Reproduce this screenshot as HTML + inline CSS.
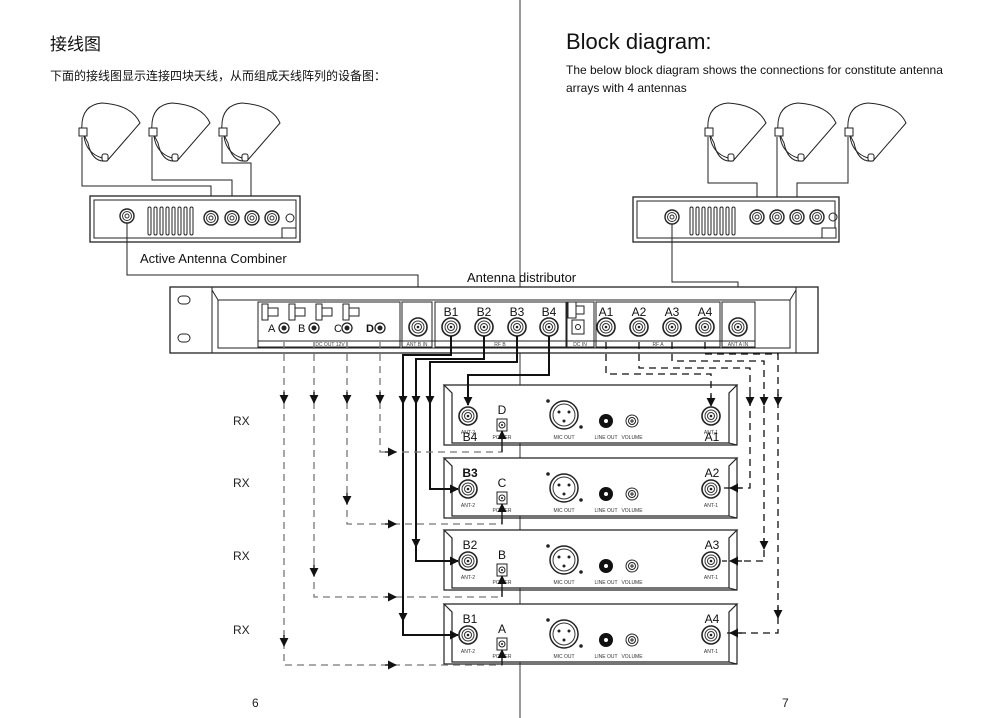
<!DOCTYPE html>
<html><head><meta charset="utf-8"><style>
html,body{margin:0;padding:0;background:#fff;}
svg{display:block;font-family:"Liberation Sans","Noto Sans CJK SC",sans-serif;}
</style></head><body>
<svg width="1000" height="718" viewBox="0 0 1000 718" xmlns="http://www.w3.org/2000/svg">
<defs>
<marker id="ar" viewBox="0 0 10 10" refX="9" refY="5" markerWidth="9" markerHeight="9" markerUnits="userSpaceOnUse" orient="auto"><path d="M0,0L10,5L0,10Z" fill="#111"/></marker>
<g id="ant" fill="none" stroke="#222" stroke-width="1">
<path d="M0,-2 Q-2,-28 20,-30 Q50,-28 58,-10 L25,28 Q10,30 6,10 Z" fill="#fff"/>
<rect x="-3" y="-5" width="8" height="8" fill="#fff"/>
<path d="M2,3 Q4,20 20,25"/><rect x="20" y="21" width="6" height="7" rx="2" fill="#fff"/>
</g>
<g id="con"><circle r="9" fill="#fff" stroke="#222" stroke-width="1.6"/><circle r="6" fill="none" stroke="#333"/><circle r="3.5" fill="none" stroke="#333"/><circle r="1.3" fill="#222"/></g>
<g id="scon"><circle r="7" fill="#fff" stroke="#222" stroke-width="1.4"/><circle r="4.5" fill="none" stroke="#333"/><circle r="2" fill="none" stroke="#333"/></g>
<g id="rcv">
<path d="M0,0 H293 L285,8 V58 H8 V8 Z" fill="#fff" stroke="#222" stroke-width="1.2"/>
<path d="M0,0 V60 H293 V0" fill="none" stroke="#222" stroke-width="1.2"/>
<line x1="285" y1="58" x2="293" y2="60" stroke="#222"/>
<use href="#con" x="24" y="31"/>
<text x="24" y="49" font-size="5" text-anchor="middle" fill="#333">ANT-2</text>
<rect x="53" y="34" width="10" height="12" fill="#fff" stroke="#222"/><circle cx="58" cy="40" r="3" fill="none" stroke="#222"/><circle cx="58" cy="40" r="1" fill="#222"/>
<text x="58" y="54" font-size="5" text-anchor="middle" fill="#333">POWER</text>
<circle cx="120" cy="30" r="14" fill="#fff" stroke="#222" stroke-width="1.5"/><circle cx="120" cy="30" r="11" fill="none" stroke="#333"/>
<circle cx="115" cy="27" r="1.5" fill="#222"/><circle cx="125" cy="27" r="1.5" fill="#222"/><circle cx="120" cy="36" r="1.5" fill="#222"/>
<circle cx="104" cy="16" r="1.8" fill="#222"/><circle cx="137" cy="42" r="1.8" fill="#222"/>
<text x="120" y="54" font-size="5" text-anchor="middle" fill="#333">MIC OUT</text>
<circle cx="162" cy="36" r="7" fill="#111"/><circle cx="162" cy="36" r="2" fill="#fff"/>
<text x="162" y="54" font-size="5" text-anchor="middle" fill="#333">LINE OUT</text>
<circle cx="188" cy="36" r="6" fill="#fff" stroke="#222"/><circle cx="188" cy="36" r="3.5" fill="none" stroke="#222"/><path d="M186,36h4M188,34v4" stroke="#222"/>
<text x="188" y="54" font-size="5" text-anchor="middle" fill="#333">VOLUME</text>
<use href="#con" x="267" y="31"/>
<text x="267" y="49" font-size="5" text-anchor="middle" fill="#333">ANT-1</text>
</g>
</defs>

<line x1="520" y1="0" x2="520" y2="718" stroke="#333" stroke-width="1"/>

<text x="50" y="50" font-size="17" fill="#111">接线图</text>
<text x="50" y="80" font-size="12" fill="#111">下面的接线图显示连接四块天线，从而组成天线阵列的设备图：</text>
<text x="566" y="49" font-size="22" fill="#111">Block diagram:</text>
<text x="566" y="74" font-size="12" fill="#111">The below block diagram shows the connections for constitute antenna</text>
<text x="566" y="92" font-size="12" fill="#111">arrays with 4 antennas</text>

<use href="#ant" x="82" y="133"/><use href="#ant" x="152" y="133"/><use href="#ant" x="222" y="133"/>
<path d="M82,137V186H211V210M152,137V180H232V210M222,137V163H251V210" fill="none" stroke="#222"/>
<rect x="90" y="196" width="210" height="46" fill="#fff" stroke="#222" stroke-width="1.3"/>
<rect x="94" y="200" width="202" height="38" fill="none" stroke="#222"/>
<g fill="none" stroke="#222"><rect x="148" y="207" width="3" height="28" rx="1.5"/><rect x="154" y="207" width="3" height="28" rx="1.5"/><rect x="160" y="207" width="3" height="28" rx="1.5"/><rect x="166" y="207" width="3" height="28" rx="1.5"/><rect x="172" y="207" width="3" height="28" rx="1.5"/><rect x="178" y="207" width="3" height="28" rx="1.5"/><rect x="184" y="207" width="3" height="28" rx="1.5"/><rect x="190" y="207" width="3" height="28" rx="1.5"/></g>
<use href="#scon" x="127" y="216"/><use href="#scon" x="211" y="218"/><use href="#scon" x="232" y="218"/><use href="#scon" x="252" y="218"/><use href="#scon" x="272" y="218"/>
<circle cx="290" cy="218" r="4" fill="none" stroke="#222"/><rect x="282" y="228" width="14" height="10" fill="#fff" stroke="#222"/>
<path d="M127,223V275H418V318" fill="none" stroke="#222"/>
<text x="140" y="263" font-size="13" fill="#111">Active  Antenna Combiner</text>

<use href="#ant" x="708" y="133"/><use href="#ant" x="778" y="133"/><use href="#ant" x="848" y="133"/>
<path d="M708,137V183H757V210M777,137V210M848,137V183H797V210" fill="none" stroke="#222"/>
<rect x="633" y="197" width="206" height="45" fill="#fff" stroke="#222" stroke-width="1.3"/>
<rect x="637" y="201" width="198" height="37" fill="none" stroke="#222"/>
<g fill="none" stroke="#222"><rect x="690" y="207" width="3" height="28" rx="1.5"/><rect x="696" y="207" width="3" height="28" rx="1.5"/><rect x="702" y="207" width="3" height="28" rx="1.5"/><rect x="708" y="207" width="3" height="28" rx="1.5"/><rect x="714" y="207" width="3" height="28" rx="1.5"/><rect x="720" y="207" width="3" height="28" rx="1.5"/><rect x="726" y="207" width="3" height="28" rx="1.5"/><rect x="732" y="207" width="3" height="28" rx="1.5"/></g>
<use href="#scon" x="672" y="217"/><use href="#scon" x="757" y="217"/><use href="#scon" x="777" y="217"/><use href="#scon" x="797" y="217"/><use href="#scon" x="817" y="217"/>
<circle cx="833" cy="217" r="4" fill="none" stroke="#222"/><rect x="822" y="228" width="14" height="10" fill="#fff" stroke="#222"/>
<path d="M672,224V282H738V318" fill="none" stroke="#222"/>

<text x="467" y="282" font-size="13" fill="#111">Antenna distributor</text>

<rect x="170" y="287" width="648" height="66" fill="#fff" stroke="#222" stroke-width="1.3"/>
<line x1="212" y1="287" x2="212" y2="353" stroke="#222"/><line x1="796" y1="287" x2="796" y2="353" stroke="#222"/>
<rect x="178" y="296" width="12" height="8" rx="4" fill="none" stroke="#222"/><rect x="178" y="334" width="12" height="8" rx="4" fill="none" stroke="#222"/>
<path d="M212,290 L218,300 H790 L796,290" fill="none" stroke="#222"/>
<rect x="218" y="300" width="572" height="48" fill="none" stroke="#222"/>
<g fill="none" stroke="#222">
<rect x="258" y="302" width="142" height="45"/><rect x="402" y="302" width="30" height="45"/><rect x="435" y="302" width="131" height="45"/>
<rect x="567" y="302" width="27" height="45"/><rect x="596" y="302" width="124" height="45"/><rect x="722" y="302" width="33" height="45"/>
<line x1="258" y1="341" x2="755" y2="341"/>
<rect x="262" y="304" width="6" height="16"/><rect x="268" y="308" width="10" height="8"/>
<rect x="289" y="304" width="6" height="16"/><rect x="295" y="308" width="10" height="8"/>
<rect x="316" y="304" width="6" height="16"/><rect x="322" y="308" width="10" height="8"/>
<rect x="343" y="304" width="6" height="16"/><rect x="349" y="308" width="10" height="8"/>
<rect x="568" y="302" width="8" height="16"/><rect x="576" y="306" width="8" height="8"/>
<rect x="572" y="320" width="12" height="14"/><circle cx="578" cy="327" r="2.5"/>
</g>
<g font-size="5" fill="#444" text-anchor="middle"><text x="330" y="346">DC OUT 12V</text><text x="417" y="346">ANT B IN</text><text x="500" y="346">RF B</text><text x="580" y="346">DC IN</text><text x="658" y="346">RF A</text><text x="738" y="346">ANT A IN</text></g>
<g font-size="11" fill="#111"><text x="268" y="332">A</text><text x="298" y="332">B</text><text x="334" y="332">C</text><text x="366" y="332" font-weight="bold">D</text></g>
<g fill="#fff" stroke="#222" stroke-width="1.3"><circle cx="284" cy="328" r="5"/><circle cx="314" cy="328" r="5"/><circle cx="347" cy="328" r="5"/><circle cx="380" cy="328" r="5"/></g>
<g fill="#222"><circle cx="284" cy="328" r="2.5"/><circle cx="314" cy="328" r="2.5"/><circle cx="347" cy="328" r="2.5"/><circle cx="380" cy="328" r="2.5"/></g>
<use href="#con" x="418" y="327"/><use href="#con" x="451" y="327"/><use href="#con" x="484" y="327"/><use href="#con" x="517" y="327"/><use href="#con" x="549" y="327"/>
<use href="#con" x="606" y="327"/><use href="#con" x="639" y="327"/><use href="#con" x="672" y="327"/><use href="#con" x="705" y="327"/><use href="#con" x="738" y="327"/>
<g font-size="12" fill="#111" text-anchor="middle"><text x="451" y="316">B1</text><text x="484" y="316">B2</text><text x="517" y="316">B3</text><text x="549" y="316">B4</text><text x="606" y="316">A1</text><text x="639" y="316">A2</text><text x="672" y="316">A3</text><text x="705" y="316">A4</text></g>

<use href="#rcv" x="444" y="385"/><use href="#rcv" x="444" y="458"/><use href="#rcv" x="444" y="530"/><use href="#rcv" x="444" y="604"/>
<g font-size="12" fill="#111" text-anchor="middle">
<text x="470" y="441">B4</text><text x="502" y="414">D</text><text x="712" y="441">A1</text>
<text x="470" y="477" font-weight="bold">B3</text><text x="502" y="487">C</text><text x="712" y="477">A2</text>
<text x="470" y="549">B2</text><text x="502" y="559">B</text><text x="712" y="549">A3</text>
<text x="470" y="623">B1</text><text x="502" y="633">A</text><text x="712" y="623">A4</text>
</g>

<g fill="none" stroke="#111" stroke-width="2">
<path d="M549,336V375H468V405" marker-end="url(#ar)"/>
<path d="M517,336V362H430V489H458" marker-end="url(#ar)"/>
<path d="M484,336V359H416V561H458" marker-end="url(#ar)"/>
<path d="M451,336V355H403V635H458" marker-end="url(#ar)"/>
</g>
<g stroke="#111" stroke-width="2"><path d="M430,395V404" marker-end="url(#ar)"/><path d="M416,395V404" marker-end="url(#ar)"/><path d="M403,395V404" marker-end="url(#ar)"/><path d="M403,610V621" marker-end="url(#ar)"/><path d="M416,540V547" marker-end="url(#ar)"/></g>

<g fill="none" stroke="#777" stroke-width="1.3" stroke-dasharray="7,5">
<path d="M284,342V665H502V650"/><path d="M314,342V597H502V579"/><path d="M347,342V524H502V507"/><path d="M380,342V452H502V437"/>
</g>
<g stroke="#111" stroke-width="1.3">
<path d="M284,392V403" marker-end="url(#ar)"/><path d="M284,635V646" marker-end="url(#ar)"/>
<path d="M314,392V403" marker-end="url(#ar)"/><path d="M314,565V576" marker-end="url(#ar)"/>
<path d="M347,392V403" marker-end="url(#ar)"/><path d="M347,493V504" marker-end="url(#ar)"/>
<path d="M380,392V403" marker-end="url(#ar)"/>
<path d="M385,452H396" marker-end="url(#ar)"/><path d="M385,524H396" marker-end="url(#ar)"/><path d="M385,597H396" marker-end="url(#ar)"/><path d="M385,665H396" marker-end="url(#ar)"/>
<path d="M502,452V431" marker-end="url(#ar)"/><path d="M502,524V504" marker-end="url(#ar)"/><path d="M502,597V576" marker-end="url(#ar)"/><path d="M502,665V650" marker-end="url(#ar)"/>
</g>

<g fill="none" stroke="#111" stroke-width="1.3" stroke-dasharray="7,5">
<path d="M606,342V374H711V400"/><path d="M639,342V368H750V488H722"/><path d="M672,342V361H764V561H722"/><path d="M705,342V354H778V633H722"/>
</g>
<g stroke="#111" stroke-width="1.3">
<path d="M711,395V406" marker-end="url(#ar)"/>
<path d="M750,394V405" marker-end="url(#ar)"/><path d="M764,394V405" marker-end="url(#ar)"/><path d="M778,394V405" marker-end="url(#ar)"/>
<path d="M764,538V549" marker-end="url(#ar)"/><path d="M778,607V618" marker-end="url(#ar)"/>
<path d="M742,488H730" marker-end="url(#ar)"/><path d="M742,561H730" marker-end="url(#ar)"/><path d="M742,633H730" marker-end="url(#ar)"/>
</g>

<g font-size="12" fill="#222"><text x="233" y="425">RX</text><text x="233" y="487">RX</text><text x="233" y="560">RX</text><text x="233" y="634">RX</text></g>
<text x="252" y="707" font-size="12" fill="#222">6</text>
<text x="782" y="707" font-size="12" fill="#222">7</text>
</svg>
</body></html>
